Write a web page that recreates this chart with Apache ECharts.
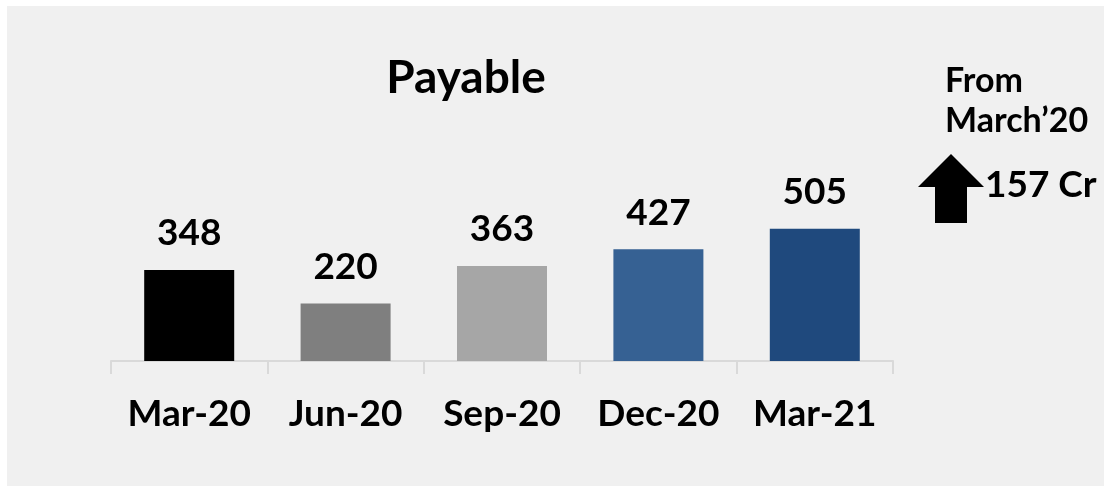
<!DOCTYPE html>
<html>
<head>
<meta charset="utf-8">
<script src="https://cdn.jsdelivr.net/npm/echarts@6/dist/echarts.min.js"></script>
<style>
  html, body { margin: 0; padding: 0; background: #ffffff; }
  #chart { width: 1104px; height: 486px; }
</style>
</head>
<body>
<div id="chart"></div>
<script>
var categories = ["Mar-20", "Jun-20", "Sep-20", "Dec-20", "Mar-21"];
var payable = [348, 220, 363, 427, 505];
var barColors = ["#000000", "#7f7f7f", "#a6a6a6", "#366193", "#1f497d"];
var changeText = "157 Cr";

var font = "Lato";

var chart = echarts.init(document.getElementById("chart"));

var barData = [];
for (var i in payable) {
    barData.push({
        value: payable[i],
        itemStyle: { color: barColors[i] }
    });
}

var option = {
    backgroundColor: "#ffffff",
    animation: false,
    graphic: [
        {
            type: "rect",
            z: -10,
            shape: { x: 7, y: 6, width: 1097, height: 480 },
            style: { fill: "#f0f0f0" }
        },
        {
            type: "text",
            style: {
                text: "Payable", x: 466, y: 78,
                textAlign: "center", textVerticalAlign: "middle",
                font: "bold 46px " + font, fill: "#000000"
            }
        },
        {
            type: "text",
            style: {
                text: "From", x: 945, y: 81,
                textAlign: "left", textVerticalAlign: "middle",
                font: "bold 34px " + font, fill: "#000000"
            }
        },
        {
            type: "text",
            style: {
                text: "March\u201920", x: 945, y: 121,
                textAlign: "left", textVerticalAlign: "middle",
                font: "bold 34px " + font, fill: "#000000"
            }
        },
        {
            type: "polygon",
            shape: {
                points: [[951, 154], [984, 187], [967, 187], [967, 223],
                         [935, 223], [935, 187], [918, 187]]
            },
            style: { fill: "#000000" }
        },
        {
            type: "text",
            style: {
                text: changeText, x: 985, y: 185,
                textAlign: "left", textVerticalAlign: "middle",
                font: "bold 37px " + font, fill: "#000000"
            }
        }
    ],
    grid: {
        left: 111,
        right: 211,
        top: 204,
        bottom: 125
    },
    xAxis: {
        type: "category",
        data: categories,
        axisLine: { lineStyle: { color: "#d9d9d9", width: 2 } },
        axisTick: { show: true, interval: 0, length: 13, lineStyle: { color: "#d9d9d9", width: 2 } },
        axisLabel: {
            interval: 0,
            color: "#000000",
            fontFamily: font,
            fontWeight: "bold",
            fontSize: 37,
            margin: 35
        }
    },
    yAxis: {
        type: "value",
        min: 0,
        max: 600,
        show: false,
        splitLine: { show: false }
    },
    series: [{
        type: "bar",
        data: barData,
        barWidth: 90,
        label: {
            show: true,
            position: "top",
            distance: 18,
            color: "#000000",
            fontFamily: font,
            fontWeight: "bold",
            fontSize: 37
        }
    }]
};

chart.setOption(option);
</script>
</body>
</html>
